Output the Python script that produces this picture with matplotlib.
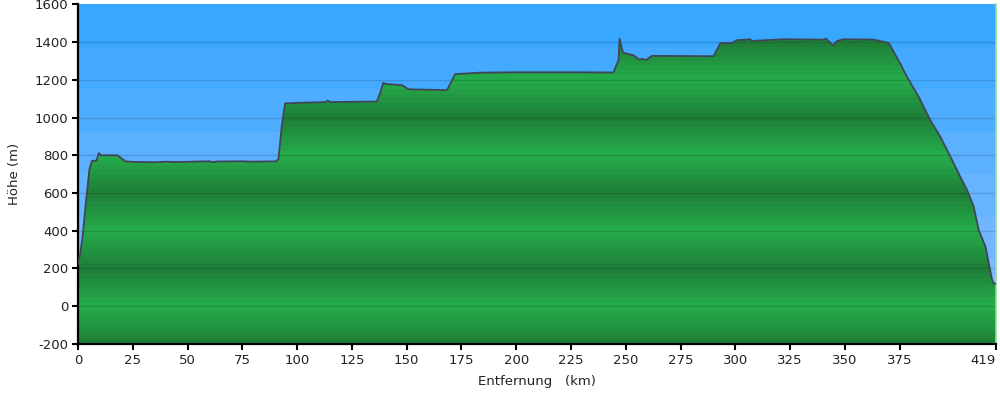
import numpy as np
import matplotlib
matplotlib.use("Agg")
import matplotlib.pyplot as plt
from matplotlib.colors import to_rgb

plt.rcParams["axes.unicode_minus"] = False


# 1. Profile data (km, m)

distance_km = [0, 0.9, 2.1, 3.7, 5.2, 6.4, 8.5, 9.5, 10.5, 18.0, 21.6,
               25, 35, 40, 45, 55, 60, 62, 63, 75, 80, 90.4,
               91.5, 93.0, 94.5, 100, 113, 114, 115, 136.4, 137.9, 139.4, 140.2,
               147.8, 150.8, 168.3, 169.1, 172.1, 183.6, 200, 225, 244.4,
               246.7, 247.2, 248.7, 253.6, 255.9, 258.1, 259.2, 261.9, 290.1,
               293.2, 298.5, 300.8, 306.8, 307.5, 321.9, 340.3, 341.6, 342.6,
               344.6, 346.4, 349.4, 363.2, 367.8, 370.1,
               375.3, 378.4, 383.7, 389.0, 393.6, 398.2, 402.7, 405.8, 408.8,
               411.1, 414.2, 417.2, 418.0, 419]
elevation_m = [225, 270, 370, 560, 725, 770, 772, 812, 800, 800, 768,
               765, 763, 766, 764, 767, 768, 763, 767, 768, 766, 768,
               780, 955, 1075, 1078, 1082, 1090, 1082, 1085, 1130, 1185, 1178,
               1172, 1150, 1145, 1160, 1230, 1238, 1240, 1240, 1239,
               1304, 1418, 1344, 1330, 1309, 1310, 1304, 1327, 1325,
               1395, 1395, 1410, 1415, 1406, 1415, 1413, 1418, 1405,
               1383, 1405, 1415, 1413, 1401, 1395,
               1286, 1215, 1110, 986, 898, 792, 686, 616, 528,
               404, 316, 140, 120, 120]

x_ticks = [0, 25, 50, 75, 100, 125, 150, 175, 200, 225, 250, 275, 300, 325, 350, 375, 419]
y_ticks = [-200, 0, 200, 400, 600, 800, 1000, 1200, 1400, 1600]

# 2. Figure

fig = plt.figure(figsize=(10, 3.94), dpi=100)
ax = fig.add_axes([0.078, 0.127, 0.918, 0.862])
xmin, xmax, ymin, ymax = 0, 419, -200, 1600

# sky: stepped gradient, light at bottom, darker at top
sky_steps = 8
sky_top, sky_bot = np.array(to_rgb("#38a7ff")), np.array(to_rgb("#8abcff"))
t = np.floor(np.linspace(0, 1, 400, endpoint=False) * sky_steps) / (sky_steps - 1)
sky = (sky_bot[None, :] * (1 - t[:, None]) + sky_top[None, :] * t[:, None])[:, None, :]
ax.imshow(sky, extent=[xmin, xmax, ymin, ymax], origin="lower", aspect="auto",
          zorder=0, interpolation="nearest")

# terrain: green bands, 400 m period, dark at 200/600/1000/1400
h = np.linspace(ymin, ymax, 1800)
w = 1 - np.abs(((h - 200) % 400) - 200) / 200
w = np.floor(w * 7.99) / 7
g_dark, g_light = np.array(to_rgb("#1e8038")), np.array(to_rgb("#25aa4b"))
green = (g_dark[None, :] * (1 - w[:, None]) + g_light[None, :] * w[:, None])[:, None, :]
poly = ax.fill_between(distance_km, elevation_m, ymin, color="none", zorder=1)
img = ax.imshow(green, extent=[xmin, xmax, ymin, ymax], origin="lower",
                aspect="auto", zorder=1, interpolation="nearest")
img.set_clip_path(poly.get_paths()[0], transform=ax.transData)

ax.plot(distance_km, elevation_m, color="#3f4756", lw=1.3, zorder=3)

for yv in y_ticks[1:-1]:
    ax.axhline(yv, color="black", alpha=0.14, lw=1, zorder=2)

ax.set_xlim(xmin, xmax)
ax.set_ylim(ymin, ymax)
ax.set_xticks(x_ticks)
ax.set_yticks(y_ticks)
ax.tick_params(direction="out", length=4, width=1.5, labelsize=9.5,
               labelcolor="#222222", pad=3)
ax.get_xticklabels()[-1].set_horizontalalignment("right")

for s in ["left", "bottom"]:
    ax.spines[s].set_linewidth(1.6)
    ax.spines[s].set_color("black")
ax.spines["top"].set_visible(False)
ax.spines["right"].set_color("#90e090")
ax.spines["right"].set_linewidth(1.2)

ax.set_xlabel("Entfernung   (km)", fontsize=9.5, color="#222222", labelpad=6)
ax.set_ylabel("Höhe (m)", fontsize=9.5, color="#222222", labelpad=10)

fig.savefig("out.png", dpi=100)
